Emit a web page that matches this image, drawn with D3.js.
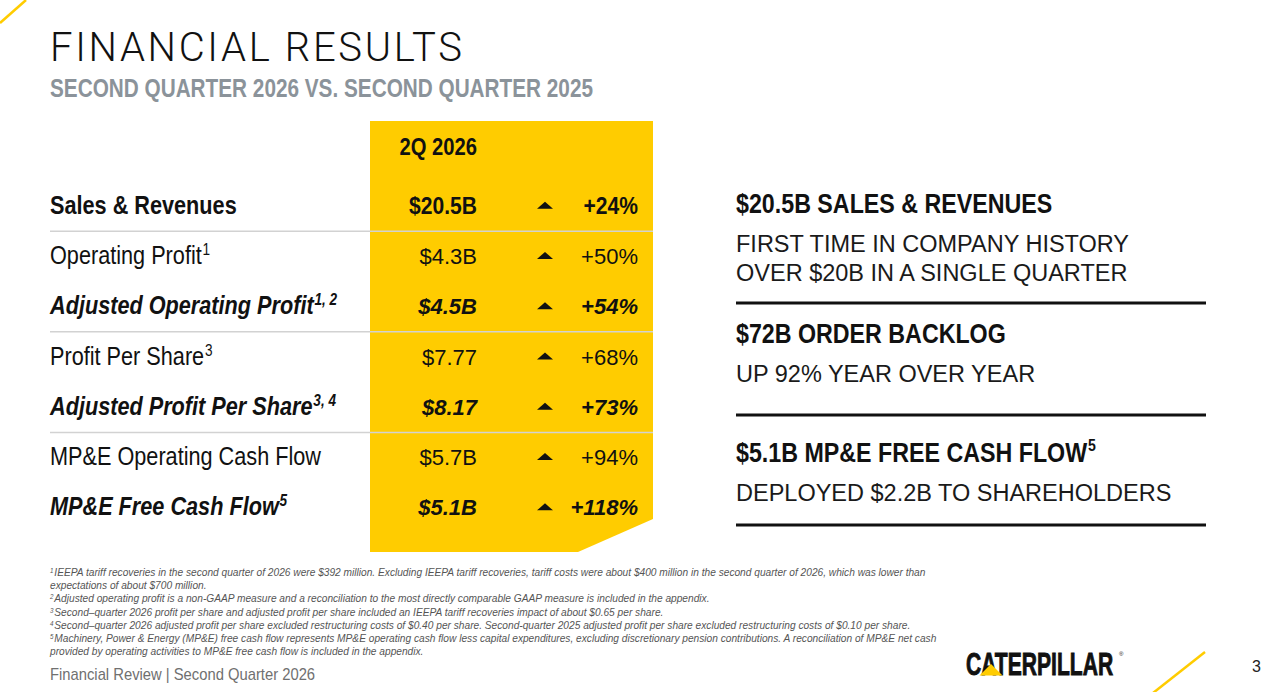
<!DOCTYPE html>
<html>
<head>
<meta charset="utf-8">
<script src="https://cdn.jsdelivr.net/npm/d3@7"></script>
<style>
html, body { margin: 0; padding: 0; background: #fff; }
svg { display: block; }
</style>
</head>
<body>
<svg id="slide" width="1280" height="692"></svg>
<script>
var rowLabels, rowNotes, rowValues, rowChanges, rowStyles, columnHeader;
var highlightTitles, highlightNotes, highlightLines, footnoteMarks, footnoteLines;
var SANS, THIN, YELLOW, svg, y, panel, rows, blockY, ruleY, place;

// table
columnHeader = "2Q 2026";
rowLabels = ["Sales & Revenues", "Operating Profit", "Adjusted Operating Profit", "Profit Per Share",
  "Adjusted Profit Per Share", "MP&E Operating Cash Flow", "MP&E Free Cash Flow"];
rowNotes = ["", "1", "1, 2", "3", "3, 4", "", "5"];
rowValues = ["$20.5B", "$4.3B", "$4.5B", "$7.77", "$8.17", "$5.7B", "$5.1B"];
rowChanges = [24, 50, 54, 68, 73, 94, 118];
rowStyles = ["bold", "plain", "italic", "plain", "italic", "plain", "italic"];

// right hand highlights
highlightTitles = ["$20.5B SALES & REVENUES", "$72B ORDER BACKLOG", "$5.1B MP&E FREE CASH FLOW"];
highlightNotes = ["", "", "5"];
highlightLines = [
  ["FIRST TIME IN COMPANY HISTORY", "OVER $20B IN A SINGLE QUARTER"],
  ["UP 92% YEAR OVER YEAR"],
  ["DEPLOYED $2.2B TO SHAREHOLDERS"]
];

// footnotes
footnoteMarks = ["1", "", "2", "3", "4", "5", ""];
footnoteLines = [
  "IEEPA tariff recoveries in the second quarter of 2026 were $392 million. Excluding IEEPA tariff recoveries, tariff costs were about $400 million in the second quarter of 2026, which was lower than",
  "expectations of about $700 million.",
  "Adjusted operating profit is a non-GAAP measure and a reconciliation to the most directly comparable GAAP measure is included in the appendix.",
  "Second\u2013quarter 2026 profit per share and adjusted profit per share included an IEEPA tariff recoveries impact of about $0.65 per share.",
  "Second\u2013quarter 2026 adjusted profit per share excluded restructuring costs of $0.40 per share. Second-quarter 2025 adjusted profit per share excluded restructuring costs of $0.10 per share.",
  "Machinery, Power & Energy (MP&E) free cash flow represents MP&E operating cash flow less capital expenditures, excluding discretionary pension contributions. A reconciliation of MP&E net cash",
  "provided by operating activities to MP&E free cash flow is included in the appendix."
];

SANS = '"Liberation Sans", Arial, sans-serif';
THIN = 'Roboto, "Liberation Sans", sans-serif';
YELLOW = '#ffcc00';

// no narrow face installed: squeeze the sans horizontally instead
place = function(sel, x, yy, s){
  return sel.attr('font-family', SANS).attr('transform', function(d, i){
    var xv = typeof x === 'function' ? x(d, i) : x;
    var yv = typeof yy === 'function' ? yy(d, i) : yy;
    return 'translate(' + xv + ',' + yv + ') scale(' + s + ',1)';
  });
};

svg = d3.select('#slide');

// corner accents
svg.append('line').attr('x1', 0).attr('y1', 23).attr('x2', 26).attr('y2', 0)
  .attr('stroke', YELLOW).attr('stroke-width', 2.5);
svg.append('line').attr('x1', 1153).attr('y1', 693).attr('x2', 1205).attr('y2', 652)
  .attr('stroke', YELLOW).attr('stroke-width', 2.5);

// headings
svg.append('text').attr('x', 50).attr('y', 61).text('FINANCIAL RESULTS')
  .attr('font-family', THIN).attr('font-weight', 300).attr('font-size', 40)
  .attr('textLength', 412).attr('lengthAdjust', 'spacing').attr('fill', '#111');
place(svg.append('text'), 50, 97, 0.83).text('SECOND QUARTER 2026 VS. SECOND QUARTER 2025')
  .attr('font-weight', 700).attr('font-size', 25).attr('fill', '#8b939a');

// row scale
y = d3.scaleBand().domain(rowLabels).range([180, 532]);

panel = d3.path();
panel.moveTo(370, 121);
panel.lineTo(653, 121);
panel.lineTo(653, y.range()[1] - 13);
panel.lineTo(578, y.range()[1] + 20);
panel.lineTo(370, y.range()[1] + 20);
panel.closePath();
svg.append('path').attr('d', panel.toString()).attr('fill', YELLOW);

place(svg.append('text'), 477, 155, 0.86).attr('text-anchor', 'end').text(columnHeader)
  .attr('font-weight', 700).attr('font-size', 23.5).attr('fill', '#111');

// group separators
svg.selectAll('line.sep').data([1, 3, 5]).enter().append('line').attr('class', 'sep')
  .attr('x1', 50).attr('x2', 653)
  .attr('y1', function(i){ return y(rowLabels[i]) + 1; })
  .attr('y2', function(i){ return y(rowLabels[i]) + 1; })
  .attr('stroke', '#d2d2d2').attr('stroke-width', 1.5);

rows = svg.selectAll('g.row').data(rowLabels.map(function(d, i){
  return { label: d, note: rowNotes[i], value: rowValues[i], change: rowChanges[i], style: rowStyles[i] };
})).enter().append('g').attr('class', 'row')
  .attr('transform', function(d){ return 'translate(0,' + (y(d.label) + y.bandwidth() / 2 + 8.5) + ')'; });

var labelText = place(rows.append('text'), 50, 0, 0.85)
  .attr('font-size', 25.5).attr('fill', '#111')
  .attr('font-weight', function(d){ return d.style === 'plain' ? 400 : 700; })
  .attr('font-style', function(d){ return d.style === 'italic' ? 'italic' : 'normal'; });
labelText.append('tspan').text(function(d){ return d.label; });
labelText.filter(function(d){ return d.note; }).append('tspan')
  .attr('dy', -9).attr('dx', 1).attr('font-size', 16).text(function(d){ return d.note; });

var valueFont = function(sel){
  return sel.attr('font-size', function(d){ return d.style === 'bold' ? 24.5 : 22; })
    .attr('font-weight', function(d){ return d.style === 'plain' ? 400 : 700; })
    .attr('font-style', function(d){ return d.style === 'italic' ? 'italic' : 'normal'; })
    .attr('fill', '#111').attr('text-anchor', 'end');
};
var widthOf = function(d){ return d.style === 'bold' ? 0.86 : 1; };
valueFont(rows.append('text').attr('font-family', SANS)
  .attr('transform', function(d){ return 'translate(477,0) scale(' + widthOf(d) + ',1)'; })
  .text(function(d){ return d.value; }));
valueFont(rows.append('text').attr('font-family', SANS)
  .attr('transform', function(d){ return 'translate(638,0) scale(' + widthOf(d) + ',1)'; })
  .text(function(d){ return (d.change > 0 ? '+' : '') + d.change + '%'; }));

rows.append('path').attr('fill', '#111').attr('d', function(d){
  var p = d3.path(), dir = d.change > 0 ? -1 : 1;
  p.moveTo(537, -8.5 - dir * 3.5);
  p.lineTo(553, -8.5 - dir * 3.5);
  p.lineTo(545, -8.5 + dir * 3.5);
  p.closePath();
  return p.toString();
});

// highlights
blockY = [213, 343, 462];
ruleY = [303, 415, 525];
var blocks = svg.selectAll('g.block').data(highlightTitles.map(function(d, i){
  return { title: d, note: highlightNotes[i], lines: highlightLines[i], top: blockY[i], rule: ruleY[i] };
})).enter().append('g').attr('class', 'block');

var titles = place(blocks.append('text'), 736, function(d){ return d.top; }, 0.83)
  .attr('font-weight', 700).attr('font-size', 28).attr('fill', '#111');
titles.append('tspan').text(function(d){ return d.title; });
titles.filter(function(d){ return d.note; }).append('tspan').attr('dy', -11).attr('dx', 1)
  .attr('font-size', 17).text(function(d){ return d.note; });

blocks.each(function(d){
  d3.select(this).selectAll('text.sub').data(d.lines).enter().append('text').attr('class', 'sub')
    .attr('x', 736).attr('y', function(t, j){ return d.top + 39 + j * 29; })
    .attr('font-family', SANS).attr('font-size', 23.5).attr('fill', '#1a1a1a').text(function(t){ return t; });
});
blocks.append('line').attr('x1', 736).attr('x2', 1206)
  .attr('y1', function(d){ return d.rule; }).attr('y2', function(d){ return d.rule; })
  .attr('stroke', '#111').attr('stroke-width', 3);

// footnotes
var notes = place(svg.selectAll('text.note').data(footnoteLines).enter().append('text').attr('class', 'note'),
  50, function(d, i){ return 576 + i * 13.2; }, 0.885)
  .attr('font-style', 'italic').attr('font-size', 11.5).attr('fill', '#555');
notes.each(function(d, i){
  var t = d3.select(this);
  if (footnoteMarks[i]) {
    t.append('tspan').attr('dy', -3).attr('font-size', 7).text(footnoteMarks[i]);
    t.append('tspan').attr('dy', 3).attr('dx', 1).text(d);
  } else {
    t.append('tspan').text(d);
  }
});

// footer
place(svg.append('text'), 50, 680, 0.87).text('Financial Review | Second Quarter 2026')
  .attr('font-size', 17).attr('fill', '#707070');
svg.append('text').attr('x', 1252).attr('y', 672).text('3')
  .attr('font-family', SANS).attr('font-size', 16).attr('fill', '#222');

// logo
place(svg.append('text'), 966, 675, 0.68).text('CATERPILLAR')
  .attr('font-weight', 700).attr('font-size', 31).attr('fill', '#111')
  .attr('stroke', '#111').attr('stroke-width', 0.9);
svg.append('path').attr('d', 'M979.5,675.5 L991,664 L1002.5,675.5 Z').attr('fill', YELLOW);
svg.append('text').attr('x', 1119).attr('y', 656).text('\u00ae')
  .attr('font-family', SANS).attr('font-size', 6).attr('fill', '#111');
</script>
</body>
</html>
